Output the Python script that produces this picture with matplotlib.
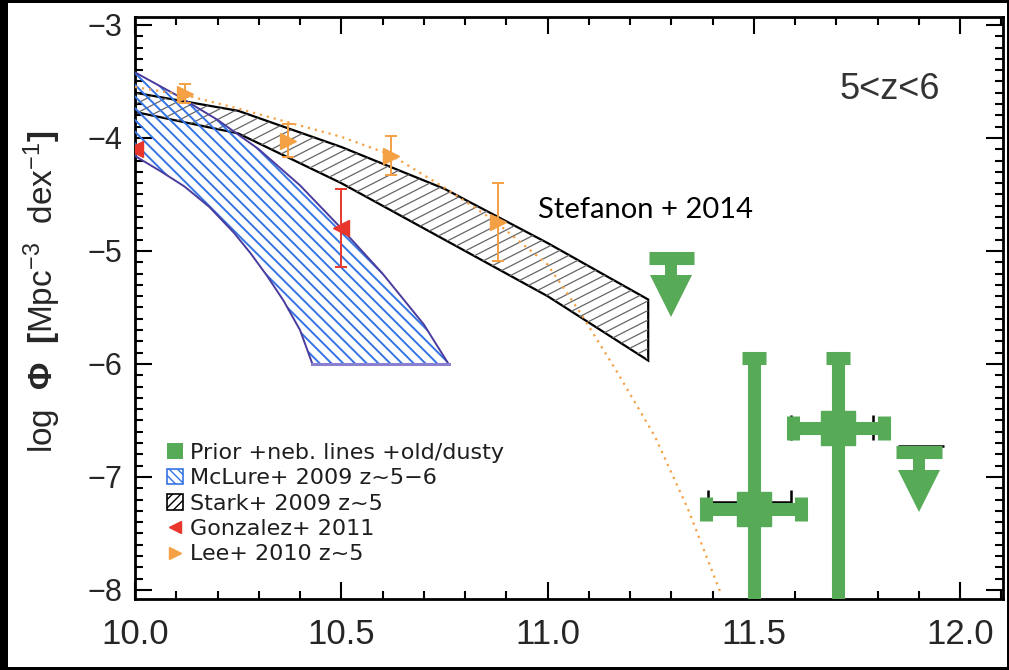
import numpy as np
import matplotlib
matplotlib.use('Agg')
import matplotlib.pyplot as plt
from matplotlib.patches import Polygon, Patch, Rectangle
from matplotlib.lines import Line2D
from matplotlib.collections import LineCollection
from matplotlib.transforms import IdentityTransform
from matplotlib.ticker import MultipleLocator, FormatStrFormatter

plt.rcParams['font.family'] = ['Liberation Sans', 'DejaVu Sans']
plt.rcParams['mathtext.fontset'] = 'custom'
plt.rcParams['mathtext.rm'] = 'Liberation Sans'
plt.rcParams['mathtext.bf'] = 'Liberation Sans:bold'
plt.rcParams['mathtext.it'] = 'Liberation Sans:italic'

# McLure+ 2009 band (upper / lower edges, cut at log phi = -6)
mclure_hi_x = [10.0, 10.1, 10.2, 10.3, 10.4, 10.5, 10.6, 10.7, 10.76]
mclure_hi_y = [-3.42, -3.62, -3.84, -4.10, -4.42, -4.80, -5.20, -5.65, -6.0]
mclure_lo_x = [10.0, 10.06, 10.12, 10.18, 10.24, 10.28, 10.32, 10.36, 10.40, 10.43]
mclure_lo_y = [-4.16, -4.29, -4.43, -4.61, -4.84, -5.02, -5.22, -5.44, -5.70, -6.0]

# Stark+ 2009 band
stark_x = [10.0, 10.25, 10.5, 10.75, 11.0, 11.244]
stark_hi = [-3.60, -3.76, -4.08, -4.45, -4.93, -5.43]
stark_lo = [-3.77, -3.96, -4.40, -4.90, -5.40, -5.97]

# Lee+ 2010 Schechter fit (dotted)
leefit_x = [10.0, 10.12, 10.25, 10.37, 10.5, 10.62, 10.75, 10.87, 11.0,
            11.08, 11.17, 11.26, 11.34, 11.42]
leefit_y = [-3.55, -3.62, -3.74, -3.86, -3.99, -4.15, -4.44, -4.73, -5.12,
            -5.55, -6.08, -6.64, -7.28, -8.03]

# Lee+ 2010 points
lee_x = [10.12, 10.37, 10.62, 10.88]
lee_y = [-3.61, -4.03, -4.16, -4.74]
lee_lo = [0.08, 0.14, 0.17, 0.35]
lee_hi = [0.09, 0.15, 0.18, 0.34]

# Gonzalez+ 2011 points
gon_x = [10.0, 10.5]
gon_y = [-4.10, -4.80]
gon_lo = [0.0, 0.34]
gon_hi = [0.0, 0.35]

# this work: detections
green_x = [11.50, 11.705]
green_y = [-7.28, -6.57]
green_xerr = [0.115, 0.11]
green_top = [-5.95, -5.95]
green_bottom = [-8.6, -8.6]
black_x = [11.49, 11.69]
black_y = [-7.22, -6.56]
black_xerr = [0.10, 0.10]

# this work: upper limits
ul_x = [11.30, 11.90]
ul_y = [-5.06, -6.78]
ul_xerr = [0.055, 0.055]
ul_black_x = [11.905]
ul_black_y = [-6.73]

GREEN = '#57ab57'
BLUE = '#3574e4'
PURPLE = '#4a3c9e'
ORANGE = '#f4a044'
RED = '#e8362c'


def add_hatch(ax, patch, angle, spacing, color, lw):
    # draw parallel lines in pixel space and clip them to the patch
    bb = ax.get_window_extent()
    cx, cy = (bb.x0 + bb.x1) / 2, (bb.y0 + bb.y1) / 2
    half = np.hypot(bb.width, bb.height) / 2
    t = np.deg2rad(angle)
    d = np.array([np.cos(t), np.sin(t)])
    n = np.array([-np.sin(t), np.cos(t)])
    segs = []
    for k in np.arange(-half, half, spacing):
        c = np.array([cx, cy]) + k * n
        segs.append([c - half * d, c + half * d])
    lc = LineCollection(segs, colors=color, linewidths=lw,
                        transform=IdentityTransform(), zorder=patch.get_zorder())
    ax.add_collection(lc, autolim=False)
    lc.set_clip_path(patch)


fig = plt.figure(figsize=(10.09, 6.70), dpi=100, facecolor='black')
fig.add_artist(Rectangle((8 / 1009, 3 / 670), 999 / 1009, 664 / 670,
                         transform=fig.transFigure, facecolor='white',
                         edgecolor='none', zorder=-10))
ax = fig.add_axes([135 / 1009, 71 / 670, 868 / 1009, 582 / 670])
ax.set_xlim(10.0, 12.104)
ax.set_ylim(-8.08, -2.93)

# Stark band
stark_poly = Polygon(np.column_stack([stark_x + stark_x[::-1],
                                      stark_hi + stark_lo[::-1]]),
                     closed=True, facecolor='none', edgecolor='black',
                     lw=1.6, zorder=2)
ax.add_patch(stark_poly)
add_hatch(ax, stark_poly, 27, 8.5, '#666666', 0.9)

# McLure band
mc_poly = Polygon(np.column_stack([mclure_hi_x + mclure_lo_x[::-1],
                                   mclure_hi_y + mclure_lo_y[::-1]]),
                  closed=True, facecolor='none', edgecolor='none', zorder=3)
ax.add_patch(mc_poly)
add_hatch(ax, mc_poly, -45, 8.3, BLUE, 1.4)
ax.plot(mclure_hi_x, mclure_hi_y, color=PURPLE, lw=1.4, zorder=3)
ax.plot(mclure_lo_x, mclure_lo_y, color=PURPLE, lw=1.4, zorder=3)
ax.plot([mclure_lo_x[-1], mclure_hi_x[-1]], [mclure_lo_y[-1], mclure_hi_y[-1]],
        color='#8a80d2', lw=2.2, zorder=3)

# Lee fit
ax.plot(leefit_x, leefit_y, color=ORANGE, lw=1.6, ls=(0, (1, 2.2)), zorder=4)

# Lee points
ax.errorbar(lee_x, lee_y, yerr=[lee_lo, lee_hi], fmt='>', color=ORANGE,
            ms=11, elinewidth=1.4, capsize=4.5, capthick=1.4, zorder=5)
# Gonzalez points
ax.errorbar(gon_x, gon_y, yerr=[gon_lo, gon_hi], fmt='<', color=RED,
            ms=11, elinewidth=1.4, capsize=4.5, capthick=1.4, zorder=5)

# detections
ax.errorbar(black_x, black_y, xerr=black_xerr, fmt='none', ecolor='black',
            elinewidth=1.8, capsize=9, capthick=1.8, zorder=5)
gy = np.array(green_y)
ax.errorbar(green_x, green_y, xerr=green_xerr,
            yerr=[gy - np.array(green_bottom), np.array(green_top) - gy],
            fmt='s', ms=24, markeredgecolor=GREEN, color=GREEN,
            elinewidth=9.4, capsize=8.5, capthick=9.4, zorder=6)
ax.errorbar(ul_black_x, ul_black_y, xerr=0.055, fmt='none', ecolor='black',
            elinewidth=1.8, zorder=5)

# upper limits
uy = np.array(ul_y)
ax.errorbar(ul_x, ul_y, xerr=ul_xerr, fmt='none', ecolor=GREEN,
            elinewidth=9.4, zorder=6)
ax.vlines(ul_x, uy, uy - 0.2, color=GREEN, lw=8.6, zorder=6)
ax.plot(ul_x, uy - 0.34, 'v', ms=30, mew=0, color=GREEN, zorder=6)

# axes styling
for s in ax.spines.values():
    s.set_linewidth(2.0)
ax.xaxis.set_major_locator(MultipleLocator(0.5))
ax.xaxis.set_minor_locator(MultipleLocator(0.1))
ax.yaxis.set_major_locator(MultipleLocator(1))
ax.yaxis.set_minor_locator(MultipleLocator(0.1))
ax.xaxis.set_major_formatter(FormatStrFormatter('%.1f'))
ax.tick_params(which='both', direction='in', top=True, right=True,
               width=1.5, color='black', labelcolor='#262626')
ax.tick_params(which='major', length=12)
ax.tick_params(which='minor', length=6)
ax.tick_params(axis='x', labelsize=25, pad=14)
ax.tick_params(axis='y', labelsize=22, pad=9)

ax.set_ylabel(r'log  $\mathbf{\Phi}$  $\mathbf{[}$Mpc$^{-3}$  dex$^{-1}$$\mathbf{]}$',
              fontsize=24, color='#262626')
ax.yaxis.label.set_va('center')
ax.yaxis.set_label_coords(-0.107, 0.527)

ax.text(0.870, 0.876, '5<z<6', transform=ax.transAxes, ha='center',
        va='center', fontsize=26, color='#333333')
ax.text(0.464, 0.668, 'Stefanon + 2014', transform=ax.transAxes, ha='left',
        va='center', fontsize=21, family='Lato', color='black')

handles = [
    Patch(facecolor=GREEN, edgecolor='none'),
    Patch(facecolor='white', edgecolor=BLUE, hatch='\\\\\\\\', lw=1.2),
    Patch(facecolor='white', edgecolor='black', hatch='////', lw=1.2),
    Line2D([], [], marker='<', color=RED, ls='none', ms=9),
    Line2D([], [], marker='>', color=ORANGE, ls='none', ms=9),
]
labels = ['Prior +neb. lines +old/dusty', 'McLure+ 2009 z~5\u22126',
          'Stark+ 2009 z~5', 'Gonzalez+ 2011', 'Lee+ 2010 z~5']
leg = ax.legend(handles, labels, loc='upper left',
                bbox_to_anchor=(0.0369, 0.268), frameon=False,
                prop={'family': 'DejaVu Sans', 'size': 16},
                borderpad=0, borderaxespad=0, labelspacing=0.24,
                handlelength=0.7, handleheight=0.7, handletextpad=0.35)
for t in leg.get_texts():
    t.set_color('#1e1e1e')

fig.savefig('out.png', dpi=100, facecolor='black')
